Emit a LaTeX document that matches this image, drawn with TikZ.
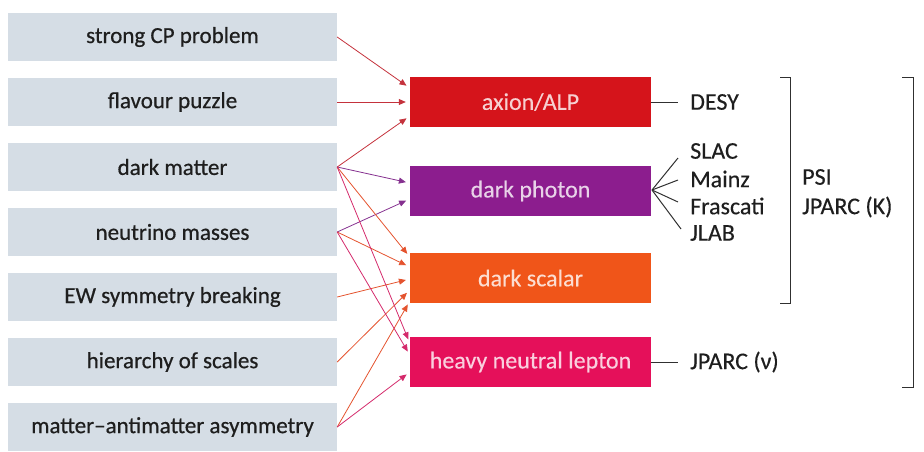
\documentclass[tikz,border=0pt]{standalone}
\usepackage{fontspec}
\setmainfont{Carlito}
\newfontfamily\boldishfont[FakeBold=0.6]{Carlito}
\newfontfamily\mediumfont[FakeBold=0.3]{Carlito}
\usetikzlibrary{calc,arrows.meta}
\definecolor{leftfill}{HTML}{D5DDE5}
\definecolor{txtdark}{HTML}{1E1E1E}
\definecolor{axc}{HTML}{D5141B}
\definecolor{phc}{HTML}{8C1D8E}
\definecolor{scc}{HTML}{F05519}
\definecolor{hnc}{HTML}{E5105A}
\definecolor{axa}{HTML}{C4323C}
\definecolor{pha}{HTML}{85308F}
\definecolor{sca}{HTML}{E4532E}
\definecolor{hna}{HTML}{D42A6B}
\definecolor{linec}{HTML}{303030}
\tikzset{
  lbox/.style={fill=leftfill, minimum width=329pt, minimum height=48pt, inner sep=0pt,
    text=txtdark, font=\boldishfont\fontsize{23}{26}\selectfont},
  rbox/.style={fill=#1, minimum width=241pt, minimum height=50pt, inner sep=0pt,
    text=white!80!#1, font=\mediumfont\fontsize{24}{27}\selectfont},
  lab/.style={anchor=west, inner sep=0pt, text=txtdark, font=\mediumfont\fontsize{24}{27}\selectfont},
  conn/.style={draw=#1, line width=0.8pt, -{Triangle[length=7pt,width=6pt]}, shorten >=4pt},
  blk/.style={draw=linec, line width=1pt},
}
\begin{document}
\begin{tikzpicture}[x=1pt,y=-1pt]
\useasboundingbox (0,0) rectangle (924,451);
% left boxes
\node[lbox] (cp)  at (172.5,37)  {strong CP problem};
\node[lbox] (fl)  at (172.5,102) {flavour puzzle};
\node[lbox] (dm)  at (172.5,167) {dark matter};
\node[lbox] (nu)  at (172.5,232) {neutrino masses};
\node[lbox] (ew)  at (172.5,297) {EW symmetry breaking};
\node[lbox] (hi)  at (172.5,362) {hierarchy of scales};
\node[lbox] (ma)  at (172.5,427) {matter\textendash antimatter asymmetry};
% right boxes
\node[rbox=axc] (ax) at (530.5,102) {axion/ALP};
\node[rbox=phc] (ph) at (530.5,191) {dark photon};
\node[rbox=scc] (sc) at (530.5,278) {dark scalar};
\node[rbox=hnc] (hn) at (530.5,362) {heavy neutral lepton};
% arrows to axion
\draw[conn=axa] (cp.east) -- ($(ax.west)+(0,-14)$);
\draw[conn=axa] (fl.east) -- ($(ax.west)+(0,0)$);
\draw[conn=axa] (dm.east) -- ($(ax.west)+(0,14)$);
% arrows to dark photon
\draw[conn=pha] (dm.east) -- ($(ph.west)+(0,-8)$);
\draw[conn=pha] (nu.east) -- ($(ph.west)+(0,8)$);
% arrows to dark scalar
\draw[conn=sca] (dm.east) -- ($(sc.west)+(0,-21)$);
\draw[conn=sca] (nu.east) -- ($(sc.west)+(0,-11)$);
\draw[conn=sca] (ew.east) -- ($(sc.west)+(0,1)$);
\draw[conn=sca] (hi.east) -- ($(sc.west)+(0,12)$);
\draw[conn=sca] (ma.east) -- ($(sc.west)+(0,23)$);
% arrows to HNL
\draw[conn=hna] (dm.east) -- ($(hn.west)+(0,-19)$);
\draw[conn=hna] (nu.east) -- ($(hn.west)+(0,-7)$);
\draw[conn=hna] (ma.east) -- ($(hn.west)+(0,10)$);
% labels on the right
\node[lab] (desy) at (690,102) {DESY};
\node[lab] (slac) at (690,151) {SLAC};
\node[lab] (mainz) at (690,179) {Mainz};
\node[lab] (fras) at (690,206) {Frascati};
\node[lab] (jlab) at (690,233) {JLAB};
\node[lab] (jpnu) at (690,362) {JPARC (ν)};
\node[lab] (psi) at (802,177) {PSI};
\node[lab] (jpk) at (802,207) {JPARC (K)};
\coordinate (fan) at (652,190);
\coordinate (f1) at (678,158);
\coordinate (f2) at (678,180);
\coordinate (f3) at (678,202);
\coordinate (f4) at (681,229);
\draw[blk] (ax.east) -- ($(desy.west)+(-12,0)$);
\draw[blk] (hn.east) -- ($(jpnu.west)+(-12,0)$);
\draw[blk] (fan) -- (f1);
\draw[blk] (fan) -- (f2);
\draw[blk] (fan) -- (f3);
\draw[blk] (fan) -- (f4);
% brackets
\coordinate (b1a) at (780,77);
\coordinate (b1b) at (790,77);
\coordinate (b1c) at (790,303);
\coordinate (b1d) at (780,303);
\draw[blk] (b1a) -- (b1b) -- (b1c) -- (b1d);
\coordinate (b2a) at (902,77);
\coordinate (b2b) at (913,77);
\coordinate (b2c) at (913,387);
\coordinate (b2d) at (902,387);
\draw[blk] (b2a) -- (b2b) -- (b2c) -- (b2d);
\end{tikzpicture}
\end{document}
